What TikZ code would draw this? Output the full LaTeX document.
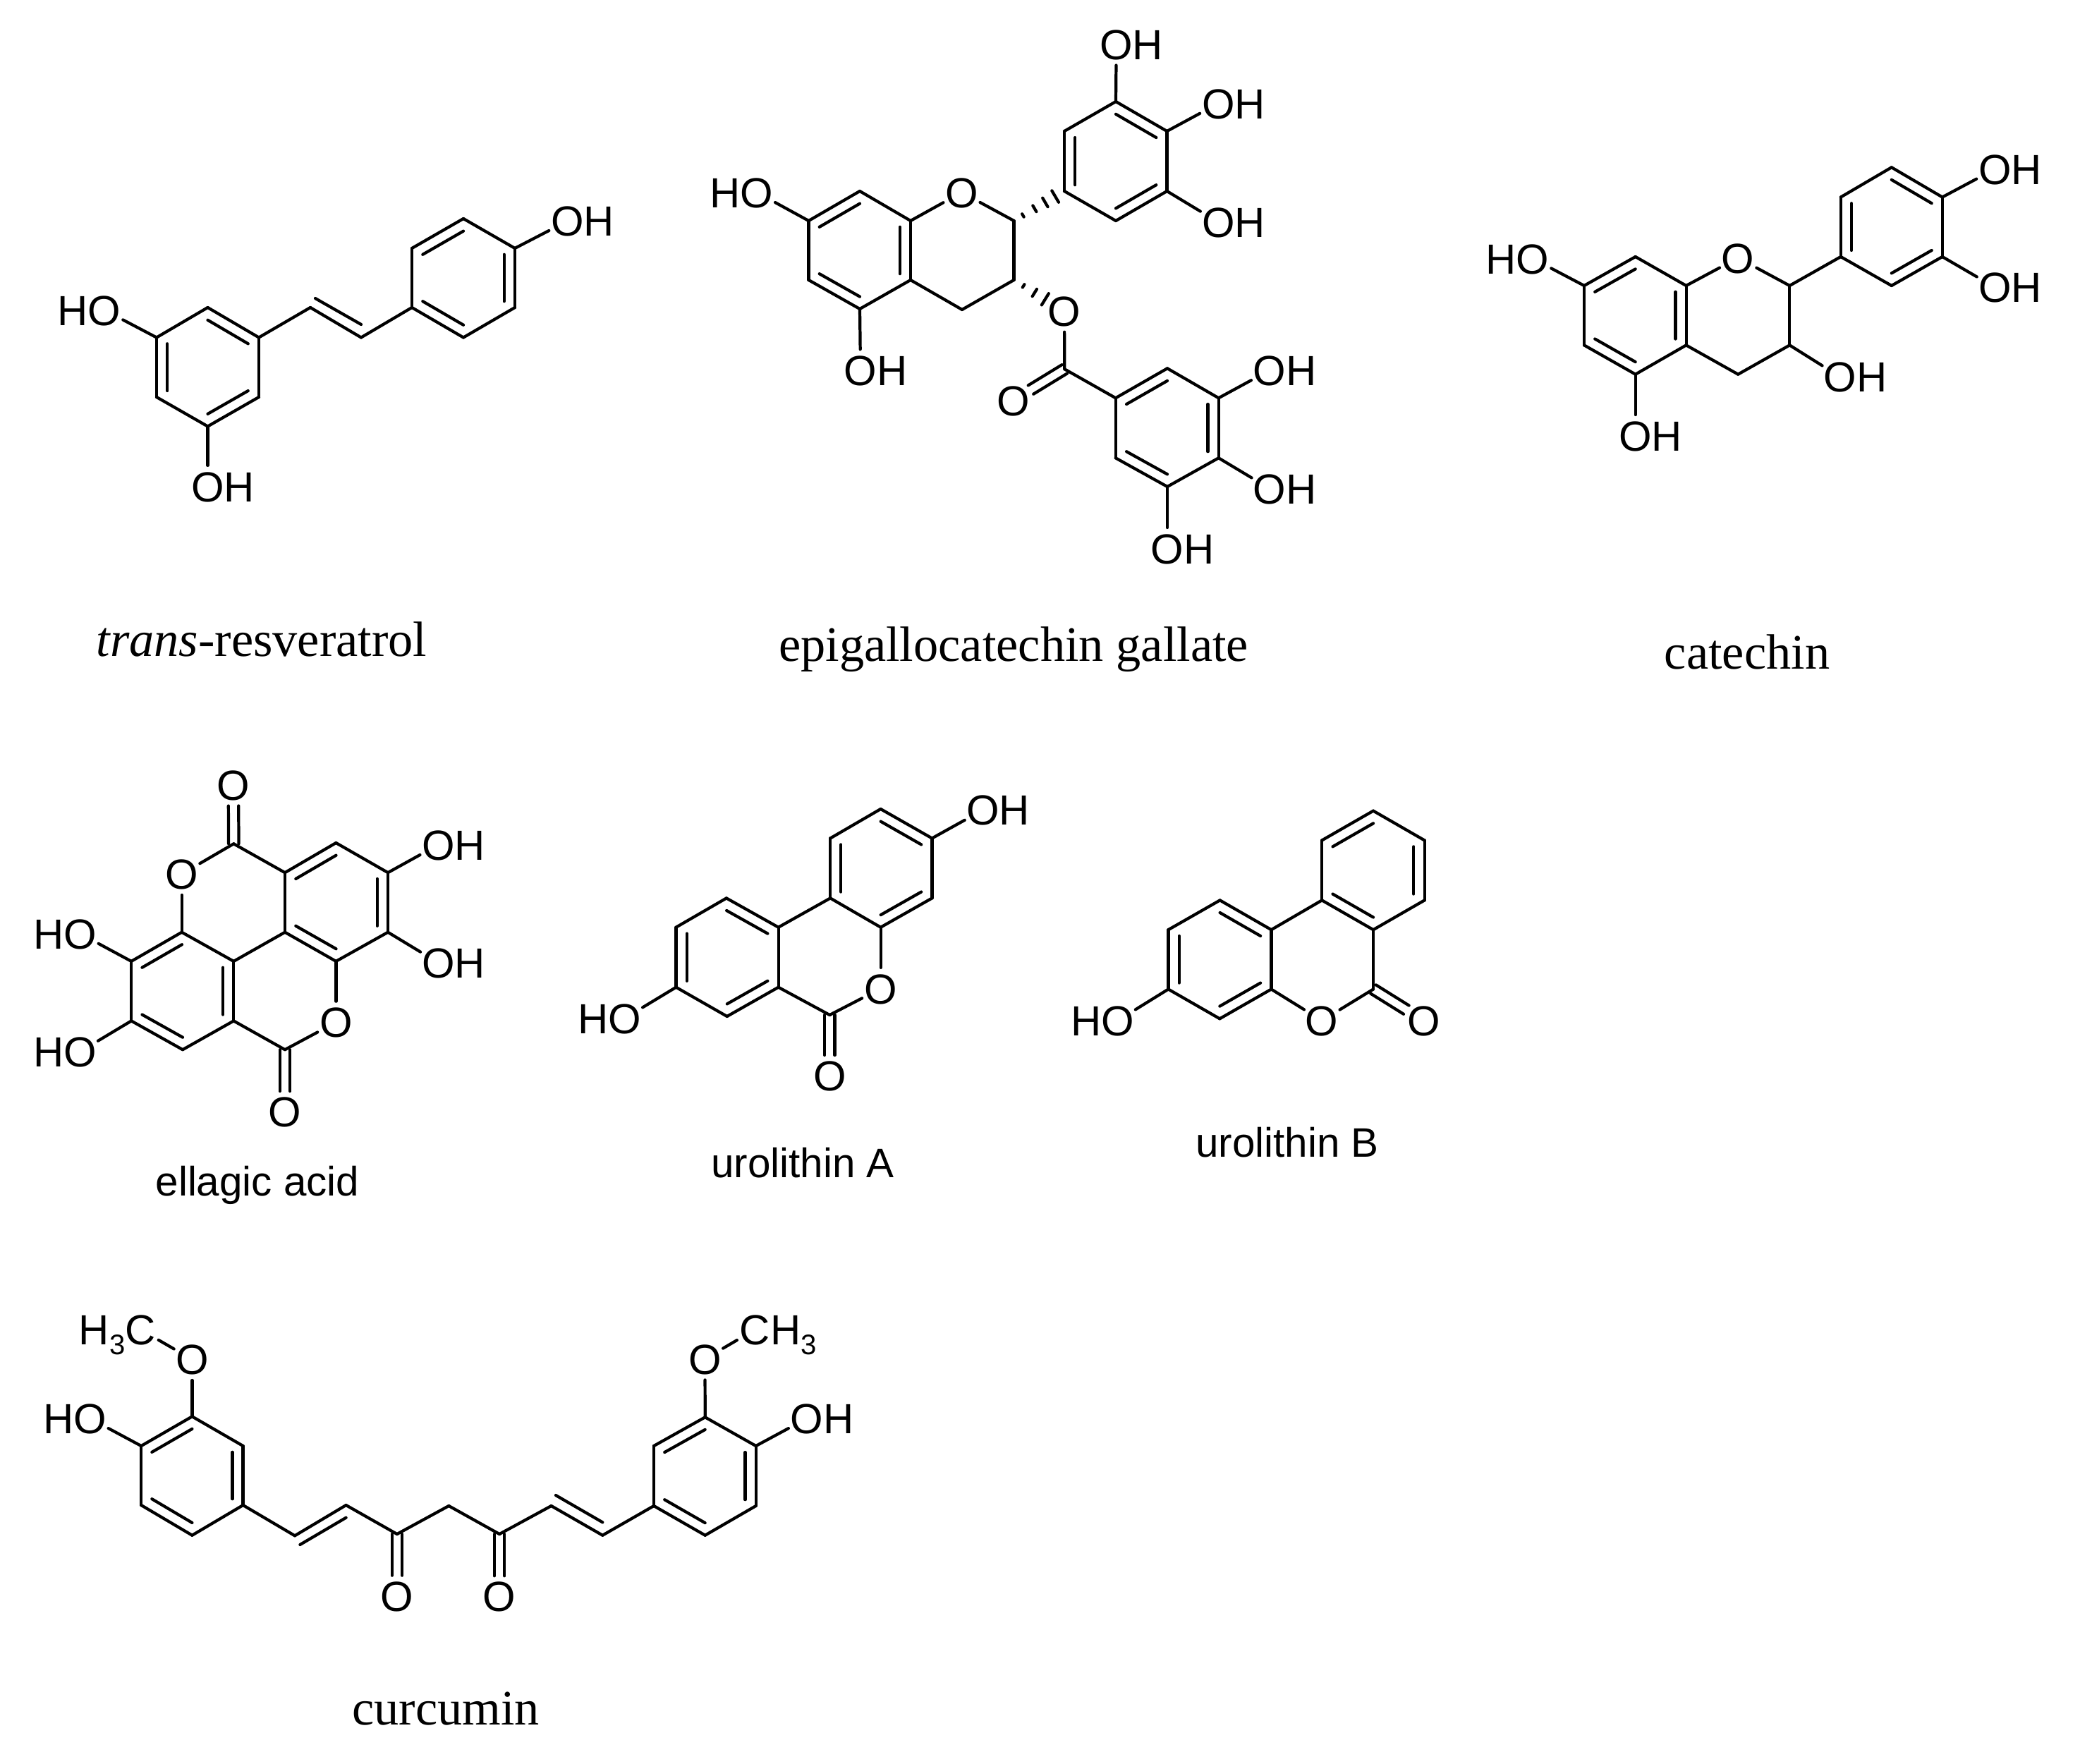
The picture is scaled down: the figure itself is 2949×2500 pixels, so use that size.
\documentclass[tikz,border=0pt]{standalone}
\usepackage{fontspec}
\setmainfont{Liberation Serif}
\setsansfont{Liberation Sans}
\usetikzlibrary{calc}
\tikzset{
  bond/.style={line width=1.2pt,line cap=round,line join=round,black},
  hashline/.style={line width=1.2pt,line cap=round,black},
  atomlab/.style={circle,inner sep=0pt,minimum size=0.58cm,text=black,
    font=\sffamily\fontsize{17}{18}\selectfont},
  capserif/.style={anchor=base,inner sep=0pt,text=black,font=\rmfamily\fontsize{20}{22}\selectfont},
  capsans/.style={anchor=base,inner sep=0pt,text=black,font=\sffamily\fontsize{16.6}{18}\selectfont}
}
\newcommand\AT[3]{\node[atomlab] (#1) at (#2) {\makebox[0pt]{\raisebox{-.358em}[0pt][0pt]{#3}}};}
\newcommand\OHr{O\rlap{H}}
\newcommand\HOl{\llap{H}O}
\newcommand\subthree{\raisebox{-.23em}{\fontsize{11.4}{12}\selectfont 3}}
\newcommand\cds[1]{\foreach \n/\x/\y in {#1} {\coordinate (\n) at (\x,\y);}}
\newcommand\bds[1]{\foreach \a/\b in {#1} {\draw[bond] (\a) -- (\b);}}
% inner line of an aromatic double bond: a, b pulled towards ring centre c
\newcommand\ibs[2]{\foreach \a/\b in {#2} {\draw[bond] ($(\a)!.21!(#1)$) -- ($(\b)!.21!(#1)$);}}
% double bond carbon to labelled oxygen
\newcommand\cobond[2]{%
  \draw[bond,shorten >=.29cm] ($(#1)!.072cm!90:(#2)$) -- ($(#2)!.072cm!-90:(#1)$);
  \draw[bond,shorten >=.29cm] ($(#1)!.072cm!-90:(#2)$) -- ($(#2)!.072cm!90:(#1)$);}
\newcommand\hashb[3]{\foreach \t/\h in {#3} {\draw[hashline] ($(#1)!\t!(#2)!\h cm!90:(#2)$) -- ($(#1)!\t!(#2)!\h cm!-90:(#2)$);}}
\begin{document}
\begin{tikzpicture}[x=0.01cm,y=-0.01cm]
\path[use as bounding box,fill=white] (0,0) rectangle (2949,2500);

% ---------- trans-resveratrol
\cds{r1/294.5/436,r2/367/478.5,r3/367/563,r4/294.5/604.5,r5/222/563,r6/222/478.5,rc/294.5/520.5,
 rv1/440/436,rv2/512/478.5,rv3/447/423,rv4/512/460,
 s1/584/436,s2/584/352,s3/657/310,s4/730/352,s5/730/436,s6/657/478.5,sc/657/394}
\AT{rO1}{148,439.6}{\HOl}
\AT{rO2}{294.5,689.6}{\OHr}
\AT{rO3}{804.7,313.3}{\OHr}
\bds{r1/r2,r2/r3,r3/r4,r4/r5,r5/r6,r6/r1,r2/rv1,rv1/rv2,rv3/rv4,rv2/s1,s1/s2,s2/s3,s3/s4,s4/s5,s5/s6,s6/s1,r6/rO1,r4/rO2,s4/rO3}
\ibs{rc}{r1/r2,r3/r4,r5/r6}
\ibs{sc}{s2/s3,s4/s5,s6/s1}
\node[capserif] (rcap) at (371,930) {\textit{trans}-resveratrol};

% ---------- epigallocatechin gallate
\cds{e1/1146.5/313,e2/1219/271,e3/1291/313,e4/1291/397,e5/1219/438,e6/1146.5/397,ec/1219/355,
 e7/1437.5/313,e8/1437.5/397,e9/1364/439,
 f1/1509/271,f2/1509/186,f3/1582/144,f4/1654.5/186,f5/1654.5/271,f6/1582/313,fc/1582/229,
 g0/1509.3/523.3,g1/1581.7/564.3,g2/1655/522.3,g3/1727.7/564.3,g4/1727.7/649.3,g5/1655/690,g6/1581.7/649.3,gc/1655/606}
\AT{eO1}{1363.4,272.8}{O}
\AT{eO2}{1509,441}{O}
\AT{eO3}{1436.7,567.7}{O}
\AT{eH1}{1073,272.8}{\HOl}
\AT{eH2}{1220,525}{\OHr}
\AT{eH3}{1582.7,62.8}{\OHr}
\AT{eH4}{1727.3,146.7}{\OHr}
\AT{eH5}{1727.3,315}{\OHr}
\AT{eH6}{1800,525}{\OHr}
\AT{eH7}{1800,692.7}{\OHr}
\AT{eH8}{1655,777.7}{\OHr}
\bds{e1/e2,e2/e3,e3/e4,e4/e5,e5/e6,e6/e1,e3/eO1,eO1/e7,e7/e8,e8/e9,e9/e4,
 f1/f2,f2/f3,f3/f4,f4/f5,f5/f6,f6/f1,eO2/g0,g0/g1,g1/g2,g2/g3,g3/g4,g4/g5,g5/g6,g6/g1,
 e1/eH1,e5/eH2,f3/eH3,f4/eH4,f5/eH5,g3/eH6,g4/eH7,g5/eH8}
\ibs{ec}{e1/e2,e3/e4,e5/e6}
\ibs{fc}{f1/f2,f3/f4,f5/f6}
\ibs{gc}{g1/g2,g3/g4,g5/g6}
\cobond{g0}{eO3}
\hashb{e7}{f1}{.18/.025,.41/.05,.62/.072,.82/.095}
\hashb{e8}{eO2}{.19/.025,.41/.06,.62/.095}
\node[capserif] (ecap) at (1437,937) {epigallocatechin gallate};

% ---------- catechin
\cds{c1/2246/405,c2/2318.7/364,c3/2390.6/405,c4/2390.6/489.4,c5/2318.7/530.7,c6/2246/489.4,cc/2318.5/447,
 c7/2537.3/405,c8/2537.3/489.4,c9/2464.2/530.7,
 d1/2609.8/364,d2/2609.8/279.5,d3/2681.8/237.3,d4/2753.8/279.5,d5/2753.8/364,d6/2681.8/405,dc/2681.8/321}
\AT{cO1}{2464.2,365.6}{O}
\AT{cH1}{2173,366.6}{\HOl}
\AT{cH2}{2318.7,617.8}{\OHr}
\AT{cH3}{2608.7,534.2}{\OHr}
\AT{cH4}{2828.4,239.7}{\OHr}
\AT{cH5}{2828.4,407.4}{\OHr}
\bds{c1/c2,c2/c3,c3/c4,c4/c5,c5/c6,c6/c1,c3/cO1,cO1/c7,c7/c8,c8/c9,c9/c4,c7/d1,
 d1/d2,d2/d3,d3/d4,d4/d5,d5/d6,d6/d1,c1/cH1,c5/cH2,c8/cH3,d4/cH4,d5/cH5}
\ibs{cc}{c1/c2,c3/c4,c5/c6}
\ibs{dc}{d1/d2,d3/d4,d5/d6}
\node[capserif] (ccap) at (2477,948.5) {catechin};

% ---------- ellagic acid
\cds{k0/331.3/1196.3,k1/404/1237.2,k2/476.4/1195,k3/550/1237.2,k4/550/1321.7,k5/476.4/1362.9,k6/404/1321.7,kc/477/1279,
 m1/331.3/1362.9,m2/257.7/1321.7,m3/186.2/1362.9,m4/186.2/1447.4,m5/259/1488.2,m6/331.3/1447.4,mc/259/1405,m0/404/1488.2}
\AT{kO1}{330.9,1113.5}{O}
\AT{kO2}{257.7,1239.2}{O}
\AT{kO3}{476.4,1449.4}{O}
\AT{kO4}{404,1576}{O}
\AT{kH1}{621.5,1197.6}{\OHr}
\AT{kH2}{621.5,1365}{\OHr}
\AT{kH3}{113.5,1323.7}{\HOl}
\AT{kH4}{113.5,1491}{\HOl}
\bds{k1/k2,k2/k3,k3/k4,k4/k5,k5/k6,k6/k1,k0/k1,k0/kO2,kO2/m2,k6/m1,m1/m2,m2/m3,m3/m4,m4/m5,m5/m6,m6/m1,m6/m0,m0/kO3,kO3/k5,
 k3/kH1,k4/kH2,m3/kH3,m4/kH4}
\ibs{kc}{k1/k2,k3/k4,k5/k6}
\ibs{mc}{m2/m3,m4/m5,m6/m1}
\cobond{k0}{kO1}
\cobond{m0}{kO4}
\node[capsans] (kcap) at (365,1695) {ellagic acid};

% ---------- urolithin A
\cds{u1/1248.6/1147,u2/1321.4/1188.5,u3/1321.4/1273.4,u4/1248.6/1314.7,u5/1177.2/1273.4,u6/1177.2/1188.5,uc/1249/1231,
 v1/1103.6/1314.7,v2/1029.9/1273.4,v3/958.5/1314.7,v4/958.5/1399.7,v5/1030.8/1441,v6/1103.6/1399.7,vc/1031/1357,v0/1176.3/1439}
\AT{uO1}{1248.6,1401.6}{O}
\AT{uO2}{1176.3,1525}{O}
\AT{uH1}{1393.7,1148.3}{\OHr}
\AT{uH2}{885.7,1443.7}{\HOl}
\bds{u1/u2,u2/u3,u3/u4,u4/u5,u5/u6,u6/u1,u5/v1,v1/v2,v2/v3,v3/v4,v4/v5,v5/v6,v6/v1,v6/v0,v0/uO1,uO1/u4,u2/uH1,v4/uH2}
\ibs{uc}{u1/u2,u3/u4,u5/u6}
\ibs{vc}{v1/v2,v3/v4,v5/v6}
\cobond{v0}{uO2}
\node[capsans] (ucap) at (1138,1669) {urolithin A};

% ---------- urolithin B
\cds{w1/1947/1149.6,w2/2019.6/1191.4,w3/2019.6/1276.4,w4/1947/1318.2,w5/1874.2/1276.4,w6/1874.2/1191.4,wc/1947/1234,
 x1/1802.4/1318.2,x2/1729.6/1276.4,x3/1656.4/1318.2,x4/1656.4/1402.5,x5/1729.3/1444.3,x6/1802.4/1402.5,xc/1729.5/1360,x0/1947/1402.5}
\AT{wO1}{1874.2,1447}{O}
\AT{wO2}{2018.4,1447}{O}
\AT{wH1}{1584.6,1447}{\HOl}
\bds{w1/w2,w2/w3,w3/w4,w4/w5,w5/w6,w6/w1,w5/x1,x1/x2,x2/x3,x3/x4,x4/x5,x5/x6,x6/x1,x6/wO1,wO1/x0,x0/w4,x4/wH1}
\ibs{wc}{w6/w1,w2/w3,w4/w5}
\ibs{xc}{x1/x2,x3/x4,x5/x6}
\cobond{x0}{wO2}
\node[capsans] (wcap) at (1825,1640) {urolithin B};

% ---------- curcumin
\cds{p1/272.4/2008.3,p2/344.6/2050,p3/344.6/2134,p4/272.4/2176.7,p5/200.2/2134,p6/200.2/2050,pc/272.4/2092,
 p7/418/2177.3,p8/490.6/2134,p9/425.4/2190,p10/490.6/2151.7,p11/562.9/2175,p12/636.3/2135,p13/708.1/2175,
 p14/781.6/2135,p15/854.3/2176.7,p16/788/2120,p17/854.3/2158.3,
 q1/927/2135,q2/927/2050,q3/999.7/2009.3,q4/1071.7/2050,q5/1071.7/2135,q6/999.7/2176.7,qc/999.5/2093}
\AT{pO1}{272.4,1927.3}{O}
\AT{pO2}{562.9,2262.7}{O}
\AT{pO3}{708.1,2263.3}{O}
\AT{pO4}{999.5,1926.7}{O}
\AT{pH1}{127.5,2011}{\HOl}
\AT{pH2}{1144,2011}{\OHr}
\AT{pM1}{199,1885}{\llap{H\subthree}C}
\AT{pM2}{1070.5,1885}{C\rlap{H\subthree}}
\bds{p1/p2,p2/p3,p3/p4,p4/p5,p5/p6,p6/p1,p3/p7,p7/p8,p9/p10,p8/p11,p11/p12,p12/p13,p13/p14,p14/p15,p16/p17,p15/q1,
 q1/q2,q2/q3,q3/q4,q4/q5,q5/q6,q6/q1,p1/pO1,pO1/pM1,p6/pH1,q3/pO4,pO4/pM2,q4/pH2}
\ibs{pc}{p1/p6,p2/p3,p4/p5}
\ibs{qc}{q2/q3,q4/q5,q6/q1}
\cobond{p11}{pO2}
\cobond{p13}{pO3}
\node[capserif] (pcap) at (632,2445) {curcumin};
\end{tikzpicture}
\end{document}
